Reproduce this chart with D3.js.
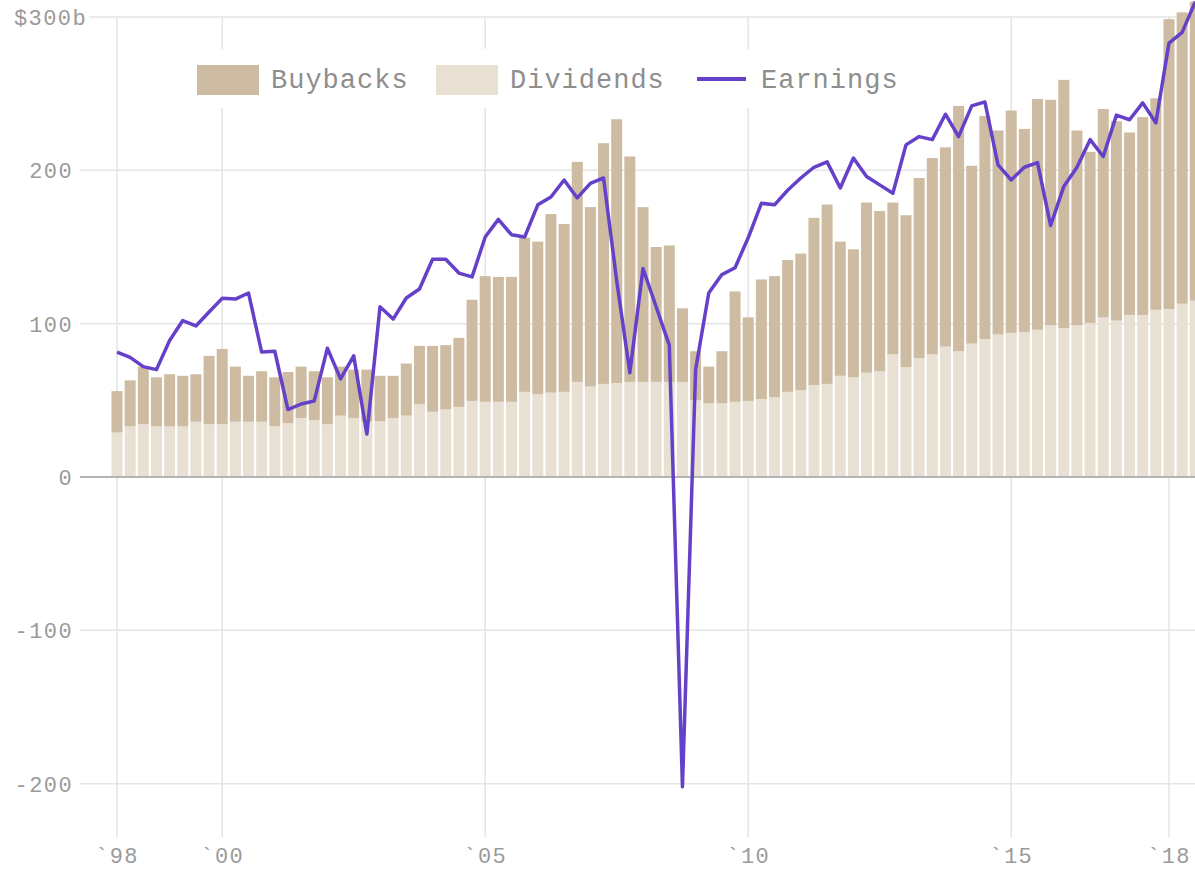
<!DOCTYPE html>
<html>
<head>
<meta charset="utf-8">
<script src="https://cdn.jsdelivr.net/npm/d3@7"></script>
<style>
  body { margin: 0; background: #fff; }
  svg { display: block; }
  .lbl { font-family: "Liberation Mono", "DejaVu Sans Mono", monospace; fill: #9a9a9a; }
</style>
</head>
<body>
<div id="chart"></div>
<script>
// quarters, 1998Q1 .. 2018Q3
const quarters = [
  '1998Q1','1998Q2','1998Q3','1998Q4','1999Q1','1999Q2','1999Q3','1999Q4',
  '2000Q1','2000Q2','2000Q3','2000Q4','2001Q1','2001Q2','2001Q3','2001Q4',
  '2002Q1','2002Q2','2002Q3','2002Q4','2003Q1','2003Q2','2003Q3','2003Q4',
  '2004Q1','2004Q2','2004Q3','2004Q4','2005Q1','2005Q2','2005Q3','2005Q4',
  '2006Q1','2006Q2','2006Q3','2006Q4','2007Q1','2007Q2','2007Q3','2007Q4',
  '2008Q1','2008Q2','2008Q3','2008Q4','2009Q1','2009Q2','2009Q3','2009Q4',
  '2010Q1','2010Q2','2010Q3','2010Q4','2011Q1','2011Q2','2011Q3','2011Q4',
  '2012Q1','2012Q2','2012Q3','2012Q4','2013Q1','2013Q2','2013Q3','2013Q4',
  '2014Q1','2014Q2','2014Q3','2014Q4','2015Q1','2015Q2','2015Q3','2015Q4',
  '2016Q1','2016Q2','2016Q3','2016Q4','2017Q1','2017Q2','2017Q3','2017Q4',
  '2018Q1','2018Q2','2018Q3'
];

// $ billions
const dividends = [
  29, 33, 34.5, 33, 33, 33, 36, 34.5,
  34.5, 36, 36, 36, 33, 35, 38.5, 37,
  34.5, 40, 38.5, 36, 36.5, 38.5, 40, 47.5,
  42.5, 44, 45.7, 49.6, 49, 49, 49, 55.5,
  54, 55, 55.5, 62, 59, 60.7, 61.3, 62,
  62, 62, 62, 62, 50, 48, 48, 49,
  49.6, 50.8, 52, 55.5, 56.7, 60, 60.7, 66,
  65, 68, 69, 80, 71.7, 77.5, 80, 85,
  82, 87, 90, 93, 94, 94.5, 96, 99,
  97, 99, 100.5, 104, 102, 105.7, 105.7, 109,
  109.6, 113, 115
];

const buybacks = [
  27, 30, 37.5, 32, 34, 33, 31, 44.5,
  49, 36, 30, 33, 32, 33.5, 33.5, 32,
  30.5, 32, 31.5, 34, 29.5, 27.5, 34, 38,
  43, 42, 45, 66, 82, 81.5, 81.5, 100.5,
  99.5, 116.5, 109.5, 143.5, 117, 157, 172, 147,
  114, 88, 89, 48, 32, 24, 34, 72,
  54.5, 78, 79, 86, 89, 109, 117, 87.5,
  83.5, 111, 104.5, 99, 99, 117.5, 128, 130,
  160, 116, 145.5, 133, 145, 132.5, 150.5, 147,
  162, 127, 111.5, 136, 130, 119, 129, 138,
  189, 190, 195
];

const earnings = [
  81.5, 78, 72, 70, 89, 102, 98.5, 107.6,
  116.5, 116, 120, 81.5, 82, 44, 47.6, 49.6,
  84, 64, 79, 28, 111, 103, 116.7, 122.6,
  142, 142, 133, 130.5, 156.5, 168, 158, 156.5,
  177.5, 182.6, 193.7, 182, 191.5, 195, 128, 68,
  136, 111, 86, -202, 70, 120, 132, 136.5,
  156, 178.5, 177.5, 187, 195, 202, 205.5, 188.5,
  208, 196, 190.5, 185, 216.6, 222, 220, 236.6,
  222, 242, 244.6, 203.5, 193.7, 202, 205, 164,
  189.5, 202, 220, 209, 236, 233, 244, 231,
  283, 290, 310
];

const yTicks = [300, 200, 100, 0, -100, -200];
const xTicks = [1998, 2000, 2005, 2010, 2015, 2018];
const xTickLabels = ['`98', '`00', '`05', '`10', '`15', '`18'];

const W = 1195, H = 872;
const colBuy = '#cdbca2', colDiv = '#e8e0d3', colEarn = '#6541c9';

// quarter -> fractional year
function qx(q) { return +q.slice(0, 4) + (+q.slice(5) - 1) / 4; }

const rows = quarters.map((q, i) => ({ q: q, t: qx(q), dividends: dividends[i], buybacks: buybacks[i], earnings: earnings[i] }));

const x = d3.scaleLinear().domain([1998, 2020]).range([117, 117 + 22 * 52.6]);
const y = d3.scaleLinear().domain([-235, 300]).range([837.3, 17]);
const barW = 11;

const svg = d3.select('#chart').append('svg')
  .attr('width', W)
  .attr('height', H);

// grid
svg.append('g').selectAll('line.h')
  .data(yTicks.filter(d => d !== 0))
  .join('line')
  .attr('x1', 80).attr('x2', W)
  .attr('y1', d => y(d)).attr('y2', d => y(d))
  .attr('stroke', '#e4e4e4').attr('stroke-width', 1.5);

svg.append('g').selectAll('line.v')
  .data(xTicks)
  .join('line')
  .attr('x1', d => x(d)).attr('x2', d => x(d))
  .attr('y1', y(300)).attr('y2', y(-235))
  .attr('stroke', '#e4e4e4').attr('stroke-width', 1.5);

// stacked bars
const stack = d3.stack().keys(['dividends', 'buybacks'])(rows);
const colors = { dividends: colDiv, buybacks: colBuy };

svg.append('g').selectAll('g')
  .data(stack)
  .join('g')
  .attr('fill', d => colors[d.key])
  .selectAll('rect')
  .data(d => d)
  .join('rect')
  .attr('x', d => x(d.data.t) - barW / 2)
  .attr('width', barW)
  .attr('y', d => y(d[1]))
  .attr('height', d => y(d[0]) - y(d[1]));

// zero line
svg.append('line')
  .attr('x1', 80).attr('x2', W)
  .attr('y1', y(0)).attr('y2', y(0))
  .attr('stroke', '#b4b4b4').attr('stroke-width', 2);

// earnings
const line = d3.line().x(d => x(d.t)).y(d => y(d.earnings));
svg.append('path')
  .datum(rows)
  .attr('d', line)
  .attr('fill', 'none')
  .attr('stroke', colEarn)
  .attr('stroke-width', 3.5)
  .attr('stroke-linejoin', 'round');

// y labels
svg.append('g').selectAll('text')
  .data(yTicks)
  .join('text')
  .attr('class', 'lbl')
  .attr('x', d => d === 300 ? 87 : 73)
  .attr('y', d => y(d))
  .attr('dy', '0.36em')
  .attr('text-anchor', 'end')
  .style('font-size', '22px')
  .style('letter-spacing', '1.4px')
  .style('paint-order', 'stroke')
  .attr('stroke', '#fff').attr('stroke-width', 10)
  .text(d => d === 300 ? '$300b' : d3.format('d')(d).replace('−', '-'));

// x labels
svg.append('g').selectAll('text')
  .data(xTicks)
  .join('text')
  .attr('class', 'lbl')
  .attr('x', (d, i) => x(d))
  .attr('y', 863)
  .attr('text-anchor', 'middle')
  .style('font-size', '22px')
  .style('letter-spacing', '1.4px')
  .text((d, i) => xTickLabels[i]);

// legend
const leg = svg.append('g');
leg.append('rect')
  .attr('x', 185).attr('y', 49).attr('width', 725).attr('height', 59)
  .attr('fill', '#fff');
const legItems = [
  { name: 'Buybacks', type: 'box', color: colBuy, sx: 197, tx: 271 },
  { name: 'Dividends', type: 'box', color: colDiv, sx: 436, tx: 510 },
  { name: 'Earnings', type: 'line', color: colEarn, sx: 697, tx: 761 }
];
legItems.forEach(it => {
  if (it.type === 'box') {
    leg.append('rect').attr('x', it.sx).attr('y', 65).attr('width', 62).attr('height', 30).attr('fill', it.color);
  } else {
    leg.append('line').attr('x1', it.sx).attr('x2', it.sx + 49).attr('y1', 79).attr('y2', 79)
      .attr('stroke', it.color).attr('stroke-width', 4);
  }
  leg.append('text')
    .attr('class', 'lbl')
    .attr('x', it.tx).attr('y', 88)
    .style('font-size', '27px')
    .style('letter-spacing', '1px')
    .style('fill', '#8e8e8e')
    .text(it.name);
});
</script>
</body>
</html>
